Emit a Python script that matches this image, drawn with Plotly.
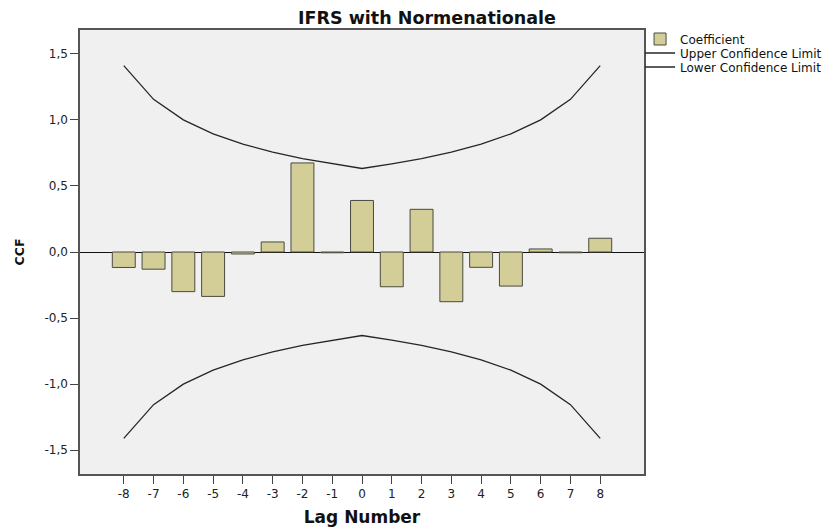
import plotly.graph_objects as go

lags = [-8, -7, -6, -5, -4, -3, -2, -1, 0, 1, 2, 3, 4, 5, 6, 7, 8]
lag_labels = ["-8", "-7", "-6", "-5", "-4", "-3", "-2", "-1", "0",
              "1", "2", "3", "4", "5", "6", "7", "8"]
coefficient = [-0.117, -0.13, -0.30, -0.336, -0.015, 0.076, 0.674, -0.006, 0.39,
               -0.263, 0.323, -0.376, -0.116, -0.258, 0.023, -0.006, 0.104]
upper_limit = [1.41, 1.155, 1.0, 0.894, 0.816, 0.756, 0.707, 0.667, 0.632,
               0.667, 0.707, 0.756, 0.816, 0.894, 1.0, 1.155, 1.41]
lower_limit = [-v for v in upper_limit]
y_ticks = [-1.5, -1.0, -0.5, 0.0, 0.5, 1.0, 1.5]
y_labels = ["-1,5", "-1,0", "-0,5", "0,0", "0,5", "1,0", "1,5"]

font = "DejaVu Sans, Liberation Sans, Arial, sans-serif"

fig = go.Figure()
fig.add_trace(go.Bar(
    x=lags, y=coefficient, name="Coefficient", width=0.77,
    marker=dict(color="#d3ce97", line=dict(color="#4a4a40", width=1)),
    legend="legend",
))
fig.add_trace(go.Scatter(
    x=lags, y=upper_limit, mode="lines", name="Upper Confidence Limit",
    line=dict(color="#262626", width=1.3), legend="legend2",
))
fig.add_trace(go.Scatter(
    x=lags, y=lower_limit, mode="lines", name="Lower Confidence Limit",
    line=dict(color="#262626", width=1.3), legend="legend3",
))

legend_common = dict(x=0.993, xanchor="left", yanchor="middle",
                     font=dict(family=font, size=12, color="#111111"),
                     bgcolor="rgba(0,0,0,0)", itemwidth=30, borderwidth=0)

fig.update_layout(
    width=829, height=519,
    margin=dict(l=72, r=193, t=22, b=53, autoexpand=False),
    paper_bgcolor="white",
    plot_bgcolor="#f0f0f0",
    font=dict(family=font, size=12, color="#222222"),
    title=dict(text="<b>IFRS with Normenationale</b>", x=0.5054, xanchor="center",
               xref="container", y=0.981, yanchor="middle", yref="container",
               font=dict(family=font, size=17.5, color="#111111")),
    showlegend=True,
    legend=dict(y=0.9797, **legend_common),
    legend2=dict(y=0.9482, **legend_common),
    legend3=dict(y=0.9167, **legend_common),
    bargap=0.2,
)
fig.update_xaxes(
    range=[-9.47, 9.47], tickmode="array", tickvals=lags, ticktext=lag_labels,
    ticks="outside", ticklen=8, tickcolor="#444444", tickwidth=1,
    showgrid=False, zeroline=False, automargin=False,
    showline=True, linecolor="#555555", linewidth=1.5, mirror=True,
    title=dict(text="<b>Lag Number</b>", font=dict(family=font, size=17, color="#111111"),
               standoff=15),
    tickfont=dict(family=font, size=12, color="#222222"),
)
fig.update_yaxes(
    range=[-1.68, 1.68], tickmode="array", tickvals=y_ticks, ticktext=y_labels,
    ticks="outside", ticklen=8, tickcolor="#444444", tickwidth=1,
    showgrid=False, zeroline=True, zerolinecolor="#111111", zerolinewidth=1.3,
    showline=True, linecolor="#555555", linewidth=1.5, mirror=True, automargin=False,
    title=dict(text="<b>CCF</b>", font=dict(family=font, size=12.5, color="#111111"),
               standoff=17),
    tickfont=dict(family=font, size=12, color="#222222"),
)

fig.write_html("out.html")
